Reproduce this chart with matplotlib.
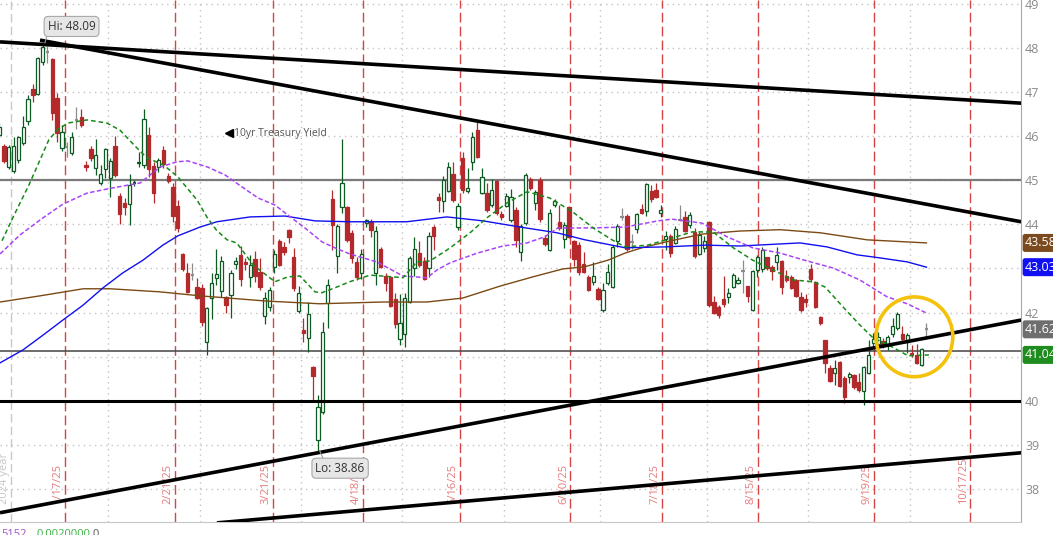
import matplotlib
matplotlib.use("Agg")
import matplotlib.pyplot as plt
import matplotlib.transforms as mtransforms
from matplotlib.patches import Ellipse, Rectangle

plt.rcParams['font.family'] = ['Open Sans', 'DejaVu Sans']

# daily candles, 10yr yield x10 (bar index 0 = 12/27/24)
opens = [46.03, 45.78, 45.30, 45.21, 45.46, 45.85, 46.35, 47.07, 46.96, 47.68,
         47.91, 47.75, 46.87, 45.73, 45.76, 45.62, 46.37, 46.44, 45.35, 45.71,
         45.28, 44.94, 45.26, 45.05, 45.78, 44.65, 44.49, 44.46, 44.92, 45.39,
         45.35, 46.03, 45.33, 45.30, 45.69, 45.10, 44.85, 44.42, 43.33, 42.90,
         42.85, 42.58, 42.56, 41.34, 42.33, 42.79, 42.49, 42.36, 42.40, 43.10,
         43.31, 43.15, 42.81, 43.22, 42.92, 41.92, 42.13, 43.04, 43.63, 43.49,
         43.87, 43.26, 42.04, 41.61, 41.43, 40.77, 39.11, 39.75, 42.22, 44.58,
         43.29, 44.40, 44.40, 43.81, 43.15, 42.90, 44.03, 44.06, 42.90, 43.44,
         42.83, 42.81, 42.31, 41.40, 41.52, 42.24, 43.01, 43.35, 43.17, 43.01,
         43.94, 44.62, 44.53, 44.76, 45.14, 43.94, 45.51, 44.76, 45.42, 46.14,
         44.71, 44.71, 44.44, 44.99, 44.24, 44.42, 44.10, 44.33, 43.38, 44.03,
         45.03, 44.49, 45.01, 43.69, 43.42, 44.44, 44.06, 43.67, 44.40, 43.63,
         43.54, 43.10, 42.81, 42.70, 42.54, 42.06, 42.67, 42.58, 43.63, 44.17,
         44.19, 43.60, 43.90, 44.35, 44.30, 44.76, 44.78, 44.26, 43.67, 43.74,
         43.58, 44.10, 44.17, 43.99, 43.83, 43.33, 43.47, 44.06, 42.24, 42.13,
         42.31, 42.36, 42.58, 42.67, 42.95, 42.61, 42.06, 42.97, 42.99, 43.26,
         43.04, 43.15, 43.17, 42.83, 42.81, 42.74, 42.36, 42.31, 42.99, 42.70,
         41.90, 41.38, 40.74, 40.63, 40.88, 40.52, 40.54, 40.59, 40.43, 40.22,
         40.63, 41.31, 41.29, 41.36, 41.27, 41.52, 41.65, 41.52, 41.33, 41.08,
         41.04, 40.81, 41.62]
highs = [46.30, 45.82, 45.80, 45.98, 46.01, 46.46, 46.94, 47.19, 47.80, 48.09,
         48.05, 47.77, 46.98, 46.26, 45.87, 46.10, 46.66, 46.62, 45.44, 45.78,
         45.94, 45.35, 45.73, 45.51, 46.01, 44.71, 44.60, 45.14, 45.01, 45.64,
         46.62, 46.21, 45.42, 45.51, 45.78, 45.17, 44.94, 44.55, 43.35, 43.13,
         43.13, 42.79, 42.65, 42.13, 42.90, 43.44, 43.28, 42.38, 42.97, 43.26,
         43.51, 43.24, 43.31, 43.40, 43.24, 42.47, 42.58, 43.42, 43.67, 43.60,
         43.90, 43.47, 42.61, 41.88, 42.24, 40.78, 40.13, 41.79, 42.76, 44.78,
         44.01, 45.94, 44.42, 43.88, 43.26, 43.44, 44.12, 44.12, 43.97, 43.49,
         42.90, 42.83, 42.45, 42.42, 42.45, 43.29, 43.72, 43.62, 43.26, 43.83,
         43.99, 44.71, 45.10, 45.42, 45.42, 44.49, 45.64, 45.28, 46.10, 46.35,
         45.28, 44.94, 45.03, 45.01, 44.30, 44.71, 44.80, 44.40, 44.01, 45.17,
         45.08, 44.78, 45.08, 43.76, 44.35, 44.58, 44.44, 44.06, 44.42, 43.65,
         43.60, 43.38, 42.85, 43.15, 42.58, 42.67, 43.10, 43.53, 44.01, 44.37,
         44.24, 43.79, 44.26, 44.46, 44.94, 44.89, 44.94, 44.44, 43.85, 43.78,
         43.97, 44.44, 44.30, 44.28, 43.92, 43.83, 43.74, 44.08, 42.38, 42.17,
         42.83, 42.56, 42.90, 42.81, 43.19, 42.61, 42.97, 43.31, 43.49, 43.26,
         43.08, 43.49, 43.19, 42.97, 42.85, 42.76, 42.47, 42.42, 43.10, 42.72,
         41.92, 41.38, 40.81, 40.93, 40.90, 40.56, 40.65, 40.61, 40.63, 40.79,
         41.38, 41.54, 41.56, 41.43, 41.49, 41.88, 42.02, 41.70, 41.54, 41.27,
         41.29, 41.20, 41.76]
lows = [45.98, 45.39, 45.26, 45.17, 45.39, 45.80, 46.26, 46.78, 46.94, 47.62,
        47.66, 46.37, 45.87, 45.67, 45.53, 45.57, 46.17, 46.21, 45.21, 45.44,
        45.12, 44.89, 45.05, 44.62, 45.08, 44.01, 44.21, 43.99, 44.87, 45.30,
        45.28, 45.08, 44.49, 45.19, 45.28, 44.94, 44.06, 43.83, 42.94, 42.45,
        42.74, 42.31, 41.70, 41.04, 41.86, 42.63, 42.36, 41.99, 41.88, 42.99,
        42.60, 42.97, 42.58, 42.69, 42.51, 41.74, 42.04, 42.90, 43.06, 43.31,
        43.58, 42.49, 41.99, 41.34, 41.11, 40.02, 38.86, 39.70, 41.65, 43.42,
        42.90, 44.26, 43.60, 43.13, 42.74, 42.76, 43.94, 43.72, 42.63, 43.01,
        42.49, 42.13, 41.65, 41.27, 41.22, 42.22, 42.83, 43.04, 42.74, 42.81,
        43.42, 44.28, 44.28, 44.74, 44.51, 43.87, 44.71, 44.71, 45.24, 45.51,
        44.69, 44.28, 44.40, 44.21, 44.10, 44.40, 44.06, 43.49, 43.17, 43.99,
        44.78, 44.33, 44.06, 43.51, 43.40, 44.40, 43.87, 43.47, 43.69, 43.06,
        42.85, 42.90, 42.49, 42.63, 42.29, 42.01, 42.63, 42.56, 43.49, 44.10,
        43.40, 43.44, 43.81, 44.24, 44.19, 44.51, 44.60, 44.17, 43.42, 43.26,
        43.56, 44.08, 43.83, 43.92, 43.24, 43.31, 43.38, 42.13, 41.97, 41.88,
        42.13, 42.22, 42.56, 42.65, 42.45, 42.24, 42.04, 42.81, 42.92, 42.97,
        42.74, 42.97, 42.42, 42.70, 42.54, 42.36, 42.01, 42.13, 42.70, 42.11,
        41.72, 40.63, 40.43, 40.36, 40.31, 39.95, 40.41, 40.27, 40.20, 39.90,
        40.61, 41.24, 41.11, 41.20, 41.15, 41.45, 41.61, 41.36, 41.08, 40.99,
        40.84, 40.79, 41.40]
closes = [46.21, 45.44, 45.76, 45.78, 45.98, 46.21, 46.85, 46.94, 47.77, 48.02,
          47.91, 46.53, 46.07, 46.10, 45.76, 45.98, 46.37, 46.26, 45.30, 45.51,
          45.58, 45.14, 45.71, 45.44, 45.12, 44.24, 44.40, 44.89, 44.96, 45.40,
          46.39, 45.26, 44.71, 45.46, 45.37, 44.99, 44.19, 43.92, 42.99, 42.47,
          42.85, 42.33, 41.79, 42.11, 42.67, 42.88, 43.17, 42.17, 42.90, 43.17,
          42.76, 43.10, 43.08, 42.83, 42.58, 42.33, 42.51, 43.33, 43.08, 43.38,
          43.72, 42.56, 42.45, 41.54, 41.97, 40.56, 39.86, 41.56, 42.63, 43.99,
          43.97, 44.94, 43.65, 43.24, 42.81, 43.33, 44.10, 43.87, 43.85, 43.04,
          42.67, 42.15, 41.74, 41.77, 42.33, 43.24, 43.44, 43.08, 42.76, 43.74,
          43.74, 44.55, 45.01, 45.30, 44.55, 44.42, 44.78, 44.83, 45.98, 45.53,
          45.08, 44.33, 44.78, 44.26, 44.17, 44.65, 44.62, 43.65, 43.97, 45.12,
          44.83, 44.74, 44.12, 43.56, 44.26, 44.53, 43.92, 43.99, 43.72, 43.22,
          42.92, 42.92, 42.51, 42.83, 42.31, 42.51, 42.92, 43.49, 43.97, 44.17,
          43.44, 43.60, 44.24, 44.26, 44.92, 44.58, 44.62, 44.33, 43.74, 43.35,
          43.90, 44.10, 43.85, 44.21, 43.28, 43.76, 43.63, 42.17, 41.99, 41.95,
          42.20, 42.45, 42.85, 42.74, 42.95, 42.38, 42.95, 43.26, 43.42, 43.01,
          42.95, 43.31, 42.58, 42.74, 42.56, 42.38, 42.06, 42.24, 42.76, 42.13,
          41.77, 40.86, 40.45, 40.74, 40.34, 40.09, 40.61, 40.31, 40.25, 40.77,
          41.04, 41.40, 41.45, 41.27, 41.45, 41.70, 41.97, 41.40, 41.49, 41.04,
          40.86, 41.17, 41.62]

# moving averages (bar index, value)
green_x = [0.6, 3.1, 6.2, 8.3, 10.3, 12.2, 14.3, 18.2, 22.3, 25, 28.3, 30.6, 34, 37, 41, 43,
           45, 47.2, 49.2, 52.6, 57.1, 59.8, 62.3, 65.4, 66.8, 69.5, 72.6, 76.8, 81.5, 83.6,
           86.5, 89.2, 93.4, 97.5, 101, 105.2, 109.3, 114, 118.8, 123, 126.9, 129.6, 134.3,
           139.3, 143.5, 147.8, 152, 156, 160.2, 164.4, 168.5, 171, 174.7, 178.2, 180.9,
           184.9, 188.2, 192.5]
green_y = [43.63, 44.21, 44.90, 45.42, 45.92, 46.16, 46.30, 46.37, 46.30, 46.14, 45.76, 45.51,
           45.35, 45.08, 44.55, 44.17, 43.87, 43.65, 43.58, 43.08, 42.70, 42.81, 42.83, 42.47,
           42.45, 42.56, 42.70, 42.85, 42.81, 42.79, 43.15, 43.17, 43.47, 43.81, 44.15, 44.49,
           44.74, 44.60, 44.28, 43.92, 43.65, 43.49, 43.53, 43.69, 43.83, 43.83, 43.47, 43.19,
           42.97, 42.74, 42.70, 42.58, 42.13, 41.72, 41.43, 41.22, 41.02, 41.04]
purple_x = [0.2, 4.3, 9.1, 13.2, 18.2, 23.6, 29.2, 33.3, 36.8, 39.1, 43.2, 46.8, 50.3, 53.6,
            57.1, 59.8, 63.3, 66.9, 69.5, 72.6, 78.2, 83.6, 88.6, 90.7, 93.4, 99, 104.3, 109.3,
            113, 115.7, 122.8, 129.6, 136.4, 139.3, 145.5, 150.7, 156, 161.7, 167.3, 172.7,
            178.2, 183.8, 188, 192]
purple_y = [43.33, 43.76, 44.15, 44.46, 44.71, 44.83, 44.94, 45.30, 45.42, 45.44, 45.30, 45.12,
            44.85, 44.60, 44.44, 44.21, 43.92, 43.60, 43.47, 43.33, 43.15, 42.83, 42.79, 42.97,
            43.13, 43.35, 43.51, 43.58, 43.72, 43.92, 43.92, 43.94, 44.08, 44.12, 44.03, 43.72,
            43.47, 43.35, 43.17, 43.01, 42.74, 42.36, 42.20, 41.99]
blue_x = [0.2, 4.9, 9.1, 13.2, 17.4, 21.5, 25.6, 29.8, 33.9, 37, 41.6, 45.1, 52, 59.2, 65.4,
          72.6, 84.4, 92.7, 100.2, 107.9, 115.5, 121.3, 129.6, 137.9, 146.1, 153.4, 165.8,
          171.4, 177.6, 182.4, 188, 192]
blue_y = [40.86, 41.15, 41.49, 41.83, 42.17, 42.56, 42.90, 43.19, 43.53, 43.74, 43.94, 44.06,
          44.17, 44.19, 44.08, 44.06, 44.06, 44.17, 44.08, 43.94, 43.81, 43.65, 43.47, 43.49,
          43.53, 43.51, 43.58, 43.49, 43.31, 43.24, 43.15, 43.03]
brown_x = [0.2, 8.5, 17.4, 23, 33.3, 41.6, 55.5, 66.4, 79.5, 88.6, 96, 103.7, 110.5, 116.7,
           121.3, 126.1, 129.6, 133.1, 137.9, 145.5, 153.4, 161.7, 170, 175.5, 179.7, 192]
brown_y = [42.24, 42.38, 42.54, 42.54, 42.47, 42.38, 42.26, 42.20, 42.24, 42.24, 42.33, 42.60,
           42.81, 42.99, 43.04, 43.19, 43.35, 43.47, 43.60, 43.78, 43.85, 43.88, 43.81, 43.72,
           43.65, 43.58]

# drawn trend lines: (start bar, start value, end bar, end value)
trend_lines = [(0.19, 48.14, 211.6, 46.75),
               (8.47, 48.18, 211.6, 44.06),
               (0.19, 37.46, 211.6, 41.83),
               (45.1, 37.23, 211.6, 38.82)]
support_level = 40.0
resist_level = 45.0
thin_level = 41.12

# monthly expiration markers
expiry_pos = [13.6, 36.5, 56.7, 75.4, 95.4, 118.3, 137.3, 157.2, 181.2, 201.1]
expiry_labels = ['1/17/25', '2/21/25', '3/21/25', '4/18/25', '5/16/25', '6/20/25',
                 '7/18/25', '8/15/25', '9/19/25', '10/17/25']
month_pos = [22.5, 41.5, 62.5, 83.5, 104.5, 124.5, 146.5, 167.5, 188.5]
year_pos = 2.5

# right-edge value bubbles
bubble_vals = [43.58, 43.03, 41.62, 41.04]
bubble_cols = ['#7b4a1e', '#1010f0', '#6e6e6e', '#1e8c1e']

UP = '#0d5a22'
DOWN = '#b3292c'
FLAT = '#8c8c8c'

fig = plt.figure(figsize=(10.53, 5.35), dpi=100)
ax = fig.add_axes([0, 13 / 535, 1021 / 1053, 522 / 535])
ax.set_xlim(0.186, 211.57)
ax.set_ylim(37.25, 49.09)

# grid
for lvl in range(38, 50):
    ax.axhline(lvl, color='#c4c4c4', lw=1.0, ls=(0, (1, 3)), zorder=1)
for mp in month_pos:
    ax.axvline(mp, color='#c4c4c4', lw=1.0, ls=(0, (1, 3)), zorder=1)
ax.axvline(year_pos, color='#c8c8c8', lw=1.0, ls=(0, (6, 3)), zorder=1)
for ep in expiry_pos:
    ax.axvline(ep, color='#d64545', lw=1.0, ls=(0, (7, 3)), zorder=1)

bottom_tr = mtransforms.blended_transform_factory(ax.transData, ax.transAxes)
for ep, lab in zip(expiry_pos, expiry_labels):
    ax.text(ep - 1.45, 0.035, lab, rotation=90, transform=bottom_tr, ha='center',
            va='bottom', fontsize=8, color='#e57b7b', zorder=2)
ax.text(1.2, 0.035, '2024 year', rotation=90, transform=bottom_tr, ha='center',
        va='bottom', fontsize=8, color='#c6c6c6', zorder=2)

# horizontal levels
ax.axhline(resist_level, color='#7a7a7a', lw=1.6, zorder=3)
ax.axhline(thin_level, color='#444444', lw=1.1, zorder=3)
ax.axhline(support_level, color='black', lw=2.2, zorder=7)

# candles
for i, (o, h, l, c) in enumerate(zip(opens, highs, lows, closes)):
    if c > o:
        col, face = UP, 'white'
    elif c < o:
        col, face = DOWN, DOWN
    else:
        col, face = FLAT, FLAT
    ax.vlines(i, l, h, color=col, lw=0.9, zorder=4)
    lo_b, hi_b = min(o, c), max(o, c)
    if hi_b - lo_b < 0.04:
        ax.hlines((o + c) / 2, i - 0.36, i + 0.36, color=col, lw=1.6, zorder=5)
    else:
        ax.add_patch(Rectangle((i - 0.34, lo_b), 0.68, hi_b - lo_b, facecolor=face,
                               edgecolor=col, lw=0.9, zorder=5))

# moving averages
ax.plot(brown_x, brown_y, color='#7b4a14', lw=1.0, zorder=6)
ax.plot(blue_x, blue_y, color='#1010f0', lw=1.0, zorder=6)
ax.plot(purple_x, purple_y, color='#a845f5', lw=1.1, ls=(0, (3, 1.5)), zorder=6)
ax.plot(green_x, green_y, color='#178a17', lw=1.1, ls=(0, (3, 2)), zorder=6)

# trend lines
for x0, y0, x1, y1 in trend_lines:
    ax.plot([x0, x1], [y0, y1], color='black', lw=2.6, solid_capstyle='butt', zorder=7)

# highlight circle
ax.add_patch(Ellipse((189.5, 41.45), 15.9, 1.81, fill=False, edgecolor='#f4c20d',
                     lw=2.6, zorder=8))

# hi / lo bubbles
box = dict(boxstyle='round,pad=0.3,rounding_size=0.35', fc='#e6e6e6', ec='#a8a8a8', lw=0.8)
ax.plot([9.9, 9.5], [48.28, 48.12], color='#999999', lw=0.8, zorder=8)
ax.text(15.0, 48.49, 'Hi: 48.09', fontsize=8.5, color='#333333', ha='center', va='center',
        bbox=box, zorder=9)
ax.plot([66.4, 67.2], [38.86, 38.66], color='#999999', lw=0.8, zorder=8)
ax.text(70.6, 38.47, 'Lo: 38.86', fontsize=8.5, color='#333333', ha='center', va='center',
        bbox=box, zorder=9)

# study label
ax.plot([47.7], [46.07], marker='<', markersize=6, color='black', zorder=8)
ax.text(48.6, 46.07, '10yr Treasury Yield', fontsize=7.5, color='#555555', ha='left',
        va='center', zorder=8)

# axes styling
ax.yaxis.tick_right()
ax.set_yticks(range(38, 50))
ax.tick_params(axis='y', length=0, pad=3, labelsize=9, labelcolor='#8a8a8a')
ax.set_xticks([])
ax.spines['top'].set_visible(False)
ax.spines['left'].set_visible(False)
ax.spines['right'].set_color('#a6a6a6')
ax.spines['bottom'].set_color('#c8c8c8')

right_tr = mtransforms.blended_transform_factory(ax.transAxes, ax.transData)
for v, colr in zip(bubble_vals, bubble_cols):
    ax.text(1.004, v, f'{v:.2f}', transform=right_tr, fontsize=9, color='white',
            ha='left', va='center', clip_on=False, zorder=10,
            bbox=dict(boxstyle='round,pad=0.2,rounding_size=0.2', fc=colr, ec='none'))

# status strip under the chart
fig.text(0.001, 0.012, '5152', fontsize=8, color='#a050d0', va='top')
fig.text(0.035, 0.012, '0.0020000', fontsize=8, color='#3cb043', va='top')
fig.text(0.088, 0.012, '0', fontsize=8, color='#555555', va='top')

fig.savefig('out.png', dpi=100)
